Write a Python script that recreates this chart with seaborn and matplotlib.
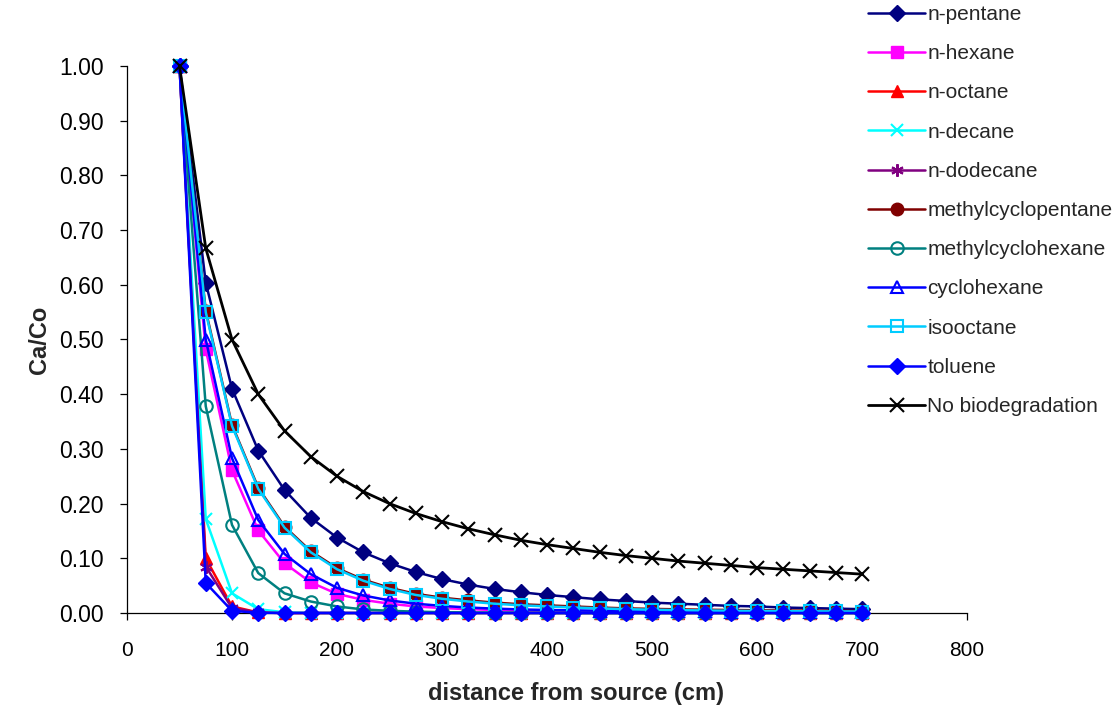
import matplotlib
matplotlib.use("Agg")
import matplotlib.pyplot as plt
from matplotlib.ticker import FormatStrFormatter, MultipleLocator
import seaborn as sns
import pandas as pd

# Distance from source (cm)
distance = [50, 75, 100, 125, 150, 175, 200, 225, 250, 275, 300, 325, 350, 375,
            400, 425, 450, 475, 500, 525, 550, 575, 600, 625, 650, 675, 700]

# Relative concentration Ca/Co for each compound
n_pentane = [1.000, 0.604, 0.410, 0.297, 0.225, 0.174, 0.138, 0.111, 0.091, 0.075,
             0.062, 0.052, 0.044, 0.038, 0.033, 0.029, 0.025, 0.022, 0.019, 0.017,
             0.015, 0.013, 0.012, 0.010, 0.009, 0.008, 0.007]
n_hexane = [1.000, 0.482, 0.261, 0.151, 0.091, 0.056, 0.035, 0.024, 0.017, 0.012,
            0.009, 0.007, 0.0055, 0.0045, 0.0038, 0.0032, 0.0028, 0.0025, 0.0023,
            0.0021, 0.0019, 0.0018, 0.0017, 0.0016, 0.0015, 0.0015, 0.0014]
n_octane = [1.000, 0.100, 0.012, 0.001, 0.0, 0.0, 0.0, 0.0, 0.0, 0.0, 0.0, 0.0, 0.0,
            0.0, 0.0, 0.0, 0.0, 0.0, 0.0, 0.0, 0.0, 0.0, 0.0, 0.0, 0.0, 0.0, 0.0]
n_decane = [1.000, 0.172, 0.036, 0.007, 0.0013, 0.0002, 0.0, 0.0, 0.0, 0.0, 0.0, 0.0,
            0.0, 0.0, 0.0, 0.0, 0.0, 0.0, 0.0, 0.0, 0.0, 0.0, 0.0, 0.0, 0.0, 0.0, 0.0]
n_dodecane = [1.000, 0.085, 0.009, 0.001, 0.0, 0.0, 0.0, 0.0, 0.0, 0.0, 0.0, 0.0, 0.0,
              0.0, 0.0, 0.0, 0.0, 0.0, 0.0, 0.0, 0.0, 0.0, 0.0, 0.0, 0.0, 0.0, 0.0]
methylcyclopentane = [1.000, 0.553, 0.344, 0.229, 0.158, 0.113, 0.082, 0.061, 0.046,
                      0.035, 0.028, 0.023, 0.019, 0.016, 0.014, 0.012, 0.010, 0.0085,
                      0.0075, 0.0067, 0.006, 0.0055, 0.005, 0.0046, 0.0043, 0.004, 0.0037]
methylcyclohexane = [1.000, 0.378, 0.161, 0.073, 0.036, 0.021, 0.012, 0.0065, 0.004,
                     0.0025, 0.0015, 0.001, 0.0006, 0.0004, 0.0002, 0.0001, 0.0, 0.0,
                     0.0, 0.0, 0.0, 0.0, 0.0, 0.0, 0.0, 0.0, 0.0]
cyclohexane = [1.000, 0.500, 0.283, 0.170, 0.108, 0.071, 0.046, 0.032, 0.023, 0.017,
               0.013, 0.010, 0.008, 0.0065, 0.0055, 0.0048, 0.0042, 0.0037, 0.0033,
               0.003, 0.0028, 0.0026, 0.0024, 0.0022, 0.0021, 0.002, 0.0019]
isooctane = [1.000, 0.550, 0.342, 0.227, 0.156, 0.111, 0.080, 0.059, 0.044, 0.033,
             0.026, 0.021, 0.017, 0.014, 0.012, 0.010, 0.0085, 0.007, 0.006, 0.0052,
             0.0046, 0.0041, 0.0037, 0.0034, 0.0031, 0.0029, 0.0027]
toluene = [1.000, 0.055, 0.004, 0.0003, 0.0, 0.0, 0.0, 0.0, 0.0, 0.0, 0.0, 0.0, 0.0,
           0.0, 0.0, 0.0, 0.0, 0.0, 0.0, 0.0, 0.0, 0.0, 0.0, 0.0, 0.0, 0.0, 0.0]
no_biodegradation = [1.000, 0.667, 0.500, 0.400, 0.333, 0.286, 0.250, 0.222, 0.200,
                     0.182, 0.167, 0.154, 0.143, 0.133, 0.125, 0.118, 0.111, 0.105,
                     0.100, 0.095, 0.091, 0.087, 0.083, 0.080, 0.077, 0.074, 0.071]

series = [
    ("n-pentane", n_pentane, "#000080", "D", "#000080", 8.5),
    ("n-hexane", n_hexane, "#FF00FF", "s", "#FF00FF", 8.5),
    ("n-octane", n_octane, "#FF0000", "^", "#FF0000", 9),
    ("n-decane", n_decane, "#00FFFF", "x", "#00FFFF", 9),
    ("n-dodecane", n_dodecane, "#800080", (6, 2, 0), "#800080", 9),
    ("methylcyclopentane", methylcyclopentane, "#800000", "o", "#800000", 9),
    ("methylcyclohexane", methylcyclohexane, "#008080", "o", "none", 9),
    ("cyclohexane", cyclohexane, "#0000FF", "^", "none", 9),
    ("isooctane", isooctane, "#00CCFF", "s", "none", 8.5),
    ("toluene", toluene, "#0000FF", "D", "#0000FF", 8.5),
    ("No biodegradation", no_biodegradation, "#000000", "x", "#000000", 10),
]

sns.set_style("ticks")
plt.rcParams["font.family"] = ["Liberation Sans", "DejaVu Sans"]

fig = plt.figure(figsize=(11.14, 7.11), dpi=100)
ax = fig.add_axes([127 / 1114, 1 - 613 / 711, 840 / 1114, 547 / 711])

for i, (name, vals, color, marker, face, ms) in enumerate(series):
    df = pd.DataFrame({"distance": distance, "ratio": vals})
    open_or_line = face == "none" or marker in ("x", (6, 2, 0))
    sns.lineplot(data=df, x="distance", y="ratio", ax=ax, color=color,
                 marker=marker, markersize=ms, markerfacecolor=face,
                 markeredgecolor=color, markeredgewidth=1.5 if open_or_line else 1.0,
                 linewidth=2.0 if name == "No biodegradation" else 1.8,
                 label=name, clip_on=False, zorder=3 + i)

ax.set_xlim(0, 800)
ax.set_ylim(0, 1.0)
ax.xaxis.set_major_locator(MultipleLocator(100))
ax.yaxis.set_major_locator(MultipleLocator(0.1))
ax.yaxis.set_major_formatter(FormatStrFormatter("%.2f"))

for side in ("top", "right"):
    ax.spines[side].set_visible(False)
for side in ("left", "bottom"):
    ax.spines[side].set_color("black")
    ax.spines[side].set_linewidth(0.9)
ax.tick_params(axis="both", direction="out", length=5, width=0.9, colors="black")
ax.tick_params(axis="x", pad=15.5, labelsize=15)
ax.tick_params(axis="y", pad=11.5, labelsize=16.5)

ax.set_xlabel("distance from source (cm)", fontsize=17, fontweight="bold")
ax.set_ylabel("Ca/Co", fontsize=17, fontweight="bold")
ax.xaxis.set_label_coords(0.535, -0.126)
ax.yaxis.set_label_coords(-0.091, 0.5)

handles, labels = ax.get_legend_handles_labels()
ax.legend(handles, labels, loc="upper left", bbox_to_anchor=(868 / 1114, 1 - 5 / 711),
          bbox_transform=fig.transFigure, frameon=False, fontsize=15,
          handlelength=2.75, handletextpad=0.1, labelspacing=0.97, borderpad=0,
          borderaxespad=0)

fig.savefig("out.png", dpi=100)
